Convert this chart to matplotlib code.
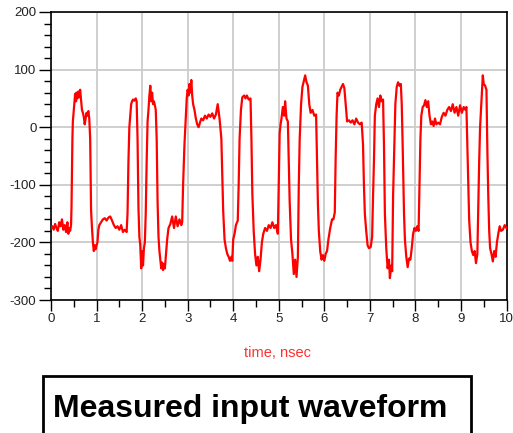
import matplotlib
matplotlib.use("Agg")
import matplotlib.pyplot as plt
import numpy as np
from matplotlib.patches import Rectangle
from matplotlib.ticker import MultipleLocator

plt.rcParams['font.family'] = ['Liberation Sans', 'DejaVu Sans']
plt.rcParams['axes.unicode_minus'] = False

# waveform: time in nsec, amplitude
t_ns = [
    0.00, 0.03, 0.06, 0.09, 0.12, 0.15, 0.18, 0.21, 0.24, 0.27, 0.30, 0.33, 0.36, 0.38, 0.40, 0.42, 0.44,
    0.45, 0.46, 0.47, 0.48, 0.50, 0.52, 0.53, 0.55, 0.56, 0.58, 0.60, 0.62, 0.64, 0.66, 0.68, 0.70, 0.72,
    0.74, 0.76, 0.78, 0.80, 0.82, 0.84,
    0.86, 0.87, 0.88, 0.90, 0.92, 0.94, 0.96, 0.98, 1.00, 1.02, 1.04, 1.06, 1.10, 1.14, 1.18, 1.22, 1.26,
    1.30, 1.34, 1.38, 1.42, 1.46, 1.50, 1.54, 1.58, 1.62, 1.66,
    1.68, 1.70, 1.72, 1.74, 1.76, 1.78, 1.80, 1.83, 1.86, 1.88,
    1.90, 1.92, 1.94, 1.96, 1.98, 2.00, 2.02, 2.04, 2.06,
    2.08, 2.10, 2.12, 2.14, 2.16, 2.18, 2.20, 2.22, 2.24, 2.26, 2.28, 2.30,
    2.32, 2.34, 2.36, 2.38, 2.40, 2.42, 2.44, 2.46, 2.48, 2.50, 2.52,
    2.55, 2.58, 2.62, 2.66, 2.70, 2.74, 2.78, 2.82, 2.86, 2.88,
    2.90, 2.93, 2.96, 2.98, 3.00, 3.02, 3.04, 3.06, 3.08, 3.10, 3.12, 3.15, 3.18, 3.21, 3.24, 3.27, 3.30,
    3.34, 3.38, 3.42, 3.46, 3.50, 3.54, 3.58, 3.62, 3.66, 3.70,
    3.74, 3.76, 3.78, 3.81, 3.84, 3.87, 3.90, 3.93, 3.96, 3.98,
    4.00, 4.03, 4.06, 4.10, 4.12, 4.14, 4.17, 4.20, 4.24, 4.27, 4.30, 4.34, 4.38,
    4.40, 4.42, 4.45, 4.48, 4.51, 4.54, 4.57, 4.60,
    4.63, 4.66, 4.70, 4.74, 4.78, 4.82, 4.86, 4.90, 4.94, 4.98,
    5.00, 5.02, 5.04, 5.06, 5.09, 5.12, 5.14, 5.17, 5.20,
    5.22, 5.24, 5.27, 5.30, 5.33, 5.36, 5.39, 5.42,
    5.44, 5.46, 5.49, 5.52, 5.55, 5.58, 5.61, 5.64, 5.67, 5.70, 5.74, 5.78, 5.82,
    5.84, 5.86, 5.88, 5.91, 5.94, 5.97, 6.00, 6.03, 6.06,
    6.09, 6.13, 6.17, 6.20, 6.23, 6.25, 6.27, 6.29, 6.32, 6.35, 6.38, 6.41, 6.44, 6.46, 6.48, 6.50, 6.54,
    6.58, 6.62, 6.66, 6.70, 6.74, 6.78, 6.82,
    6.85, 6.87, 6.89, 6.92, 6.95, 6.98, 7.02, 7.05,
    7.07, 7.09, 7.11, 7.14, 7.17, 7.20, 7.23, 7.26, 7.29,
    7.31, 7.33, 7.36, 7.39, 7.42, 7.44, 7.47, 7.49,
    7.51, 7.54, 7.56, 7.59, 7.62, 7.65, 7.68, 7.70,
    7.72, 7.75, 7.77, 7.80, 7.83, 7.86, 7.89, 7.92,
    7.95, 7.98, 8.01, 8.04, 8.07, 8.09, 8.11, 8.13, 8.16, 8.19, 8.22, 8.25, 8.28, 8.31, 8.34, 8.37, 8.40,
    8.43, 8.46, 8.50, 8.54, 8.58, 8.62, 8.66, 8.70, 8.74, 8.78, 8.82, 8.86, 8.90, 8.94, 8.98, 9.02, 9.06,
    9.10, 9.12,
    9.14, 9.16, 9.18, 9.21, 9.24, 9.27, 9.30, 9.33, 9.36,
    9.38, 9.40, 9.42, 9.44, 9.46, 9.48, 9.50, 9.53, 9.56,
    9.58, 9.60, 9.62, 9.64, 9.67, 9.70, 9.73, 9.76,
    9.79, 9.82, 9.85, 9.88, 9.92, 9.96, 10.00,
]
amplitude = [
    -175, -172, -178, -168, -175, -180, -165, -172, -160, -178, -170, -182, -165, -185, -175, -180, -170,
    -140, -80, -20, 10, 30, 50, 58, 45, 60, 50, 62, 52, 65, 48, 30, 25, 18,
    5, 15, 25, 20, 28, 15,
    -20, -90, -145, -175, -200, -215, -205, -212, -205, -200, -178, -170, -165, -160, -158, -162, -157,
    -155, -162, -170, -175, -172, -178, -170, -182, -178, -182,
    -150, -60, 0, 20, 40, 45, 48, 46, 50, 45,
    -20, -140, -190, -205, -245, -215, -240, -210, -200,
    -150, -60, 10, 30, 55, 72, 45, 60, 40, 45, 38, 30,
    -20, -130, -190, -215, -230, -245, -235, -248, -238, -245, -225,
    -195, -175, -168, -155, -175, -155, -172, -160, -170, -165,
    -100, -30, 20, 50, 65, 55, 75, 60, 82, 55, 40, 30, 15, 5, 0, 8, 15,
    12, 20, 15, 22, 18, 24, 15, 22, 40, 15,
    -20, -80, -145, -195, -210, -220, -225, -232, -225, -232,
    -195, -185, -170, -162, -100, -20, 30, 52, 55, 50, 55, 48, 50,
    -20, -115, -180, -220, -240, -225, -250, -230,
    -200, -185, -175, -180, -170, -175, -165, -175, -170, -185,
    -100, -10, 5, 15, 35, 20, 45, 15, 10,
    -60, -130, -195, -220, -255, -230, -260, -225,
    -100, -20, 40, 70, 80, 90, 78, 72, 40, 25, 30, 20, 22,
    -60, -134, -180, -215, -230, -222, -232, -220, -215,
    -195, -175, -160, -160, -148, -50, 20, 60, 55, 65, 70, 75, 68, 50, 30, 10, 12,
    8, 12, 5, 15, 8, 5, 8,
    -30, -100, -150, -180, -205, -210, -208, -190,
    -120, -60, 20, 40, 50, 35, 55, 45, 48,
    -30, -150, -210, -245, -230, -262, -240, -250,
    -120, -20, 40, 70, 78, 72, 75, 40,
    -30, -150, -195, -225, -243, -228, -230, -210,
    -185, -175, -180, -172, -180, -100, -20, 20, 35, 38, 47, 35, 45, 20, 5, 10, 2,
    15, 5, 8, 5, 18, 25, 20, 30, 35, 28, 40, 25, 35, 20, 38, 25, 35,
    30, 35,
    -30, -100, -160, -200, -215, -222, -215, -236, -220,
    -140, -60, 0, 30, 60, 90, 75, 72, 65,
    -40, -120, -180, -210, -220, -233, -215, -225,
    -200, -185, -172, -180, -178, -170, -175,
]

fig = plt.figure(figsize=(5.13, 4.33), dpi=100)
ax = fig.add_axes([51 / 513, 1 - 300 / 433, 455.5 / 513, 288 / 433])

ax.plot(t_ns, amplitude, color='#ff0000', lw=1.6, zorder=3)

ax.set_xlim(0, 10)
ax.set_ylim(-300, 200)
ax.xaxis.set_major_locator(MultipleLocator(1))
ax.xaxis.set_minor_locator(MultipleLocator(0.5))
ax.yaxis.set_major_locator(MultipleLocator(100))
ax.yaxis.set_minor_locator(MultipleLocator(20))
ax.grid(True, which='major', color='#cccccc', lw=1.3, zorder=0)
ax.tick_params(which='major', direction='out', length=8, width=1, labelsize=9.5,
               pad=1.5, colors='black', labelcolor='#222222')
ax.tick_params(which='minor', direction='out', length=5, width=1)
ax.tick_params(axis='y', which='major', length=9)
for s in ax.spines.values():
    s.set_color('black')
    s.set_linewidth(1.2)

fig.text(278 / 513, 1 - 353 / 433, 'time, nsec', color='#ff3030', fontsize=10.5,
         ha='center', va='center')

# caption box, open at the bottom edge of the figure
fig.patches.append(Rectangle((43 / 513, -0.05), 428 / 513, 0.05 + (433 - 376) / 433,
                             transform=fig.transFigure, fill=False, ec='black', lw=2))
fig.text(53 / 513, 1 - 417 / 433, 'Measured input waveform', fontsize=23,
         fontweight='bold', ha='left', va='baseline', color='black')

fig.savefig('out.png', dpi=100)
